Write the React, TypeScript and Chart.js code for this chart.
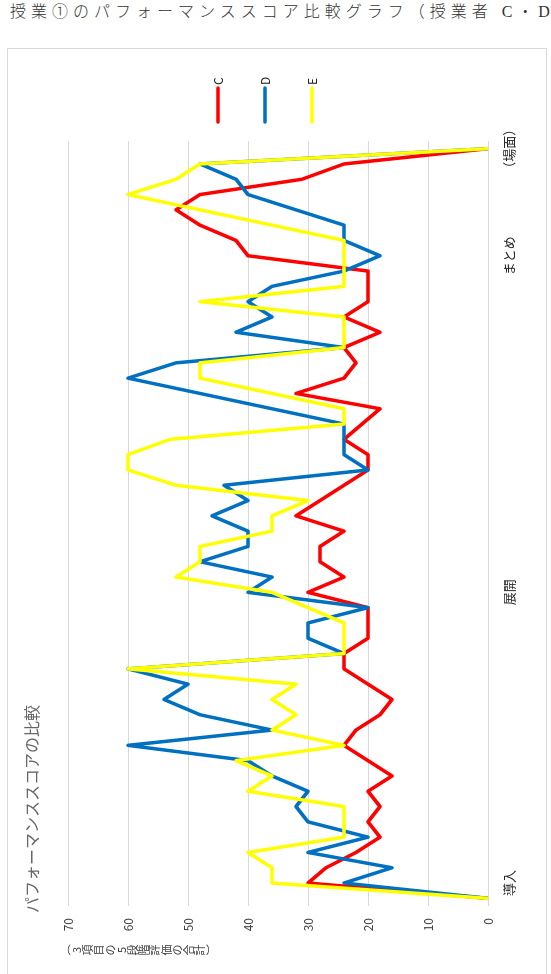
import React, { useEffect, useRef } from "react";
import { Chart, registerables } from "chart.js";

Chart.register(...registerables);

// ---- data ----
const pageTitle = "授業①のパフォーマンススコア比較グラフ（授業者 C・D・E）";
const chartTitle = "パフォーマンススコアの比較";
const axisTitle = "（3項目の5段階評価の合計）";

const categoryCount = 50;
const categoryLabels = ["導入", "展開", "まとめ", "（場面）"];
const categoryLabelIndex = [1, 20, 42, 49];

const seriesNames = ["C", "D", "E"];
const seriesColors = ["#FF0000", "#0070C0", "#FFFF00"];

const seriesC = [
  0, 30, 27, 22, 18, 20, 18, 20, 16, 20,
  24, 22, 18, 16, 20, 24, 24, 20, 20, 20,
  30, 24, 28, 28, 24, 32, 28, 24, 20, 20,
  24, 21, 18, 32, 24, 22, 24, 18, 24, 20,
  20, 20, 40, 42, 48, 52, 48, 31, 24, 0,
];
const seriesD = [
  0, 24, 16, 30, 20, 30, 32, 30, 36, 40,
  60, 36, 48, 54, 50, 60, 24, 30, 30, 20,
  40, 36, 48, 40, 40, 46, 40, 44, 20, 24,
  24, 24, 36, 48, 60, 52, 24, 42, 36, 40,
  36, 24, 18, 24, 24, 32, 40, 42, 48, 0,
];
const seriesE = [
  0, 36, 36, 40, 24, 24, 24, 40, 36, 42,
  24, 36, 32, 36, 32, 60, 24, 24, 24, 30,
  36, 52, 48, 48, 36, 36, 30, 52, 60, 60,
  53, 24, 24, 36, 48, 48, 24, 24, 24, 48,
  24, 24, 24, 24, 36, 48, 60, 52, 48, 0,
];

const valueMin = 0;
const valueMax = 70;
const valueStep = 10;

const categories = Array.from({ length: categoryCount }, (_, i) => {
  const k = categoryLabelIndex.indexOf(i);
  return k >= 0 ? categoryLabels[k] : "";
});

const FONT = '"Noto Sans CJK JP", "Noto Sans", sans-serif';

// canvas (unrotated) size
const CW = 932;
const CH = 538;

export default function App() {
  const ref = useRef<HTMLCanvasElement | null>(null);

  useEffect(() => {
    const canvas = ref.current;
    if (!canvas) return;

    const overlay = {
      id: "overlayText",
      afterDraw(chart: any) {
        const ctx = chart.ctx as CanvasRenderingContext2D;
        ctx.save();
        // chart title
        ctx.fillStyle = "#666666";
        ctx.font = `16px ${FONT}`;
        ctx.textAlign = "left";
        ctx.textBaseline = "middle";
        ctx.fillText(chartTitle, 67, 24);

        // stacked vertical axis title
        ctx.font = `11px ${FONT}`;
        ctx.textAlign = "center";
        ctx.fillStyle = "#404040";
        const chars = Array.from(axisTitle);
        chars.forEach((ch, k) => {
          const cy = 57.6 + k * 11.2;
          if (ch === "（" || ch === "）") {
            ctx.save();
            ctx.translate(30, cy);
            ctx.rotate(Math.PI / 2);
            ctx.fillText(ch, 0, 0);
            ctx.restore();
          } else {
            ctx.fillText(ch, 30, cy);
          }
        });

        // legend
        chart.data.datasets.forEach((ds: any, k: number) => {
          const y = 210 + 47 * k;
          ctx.strokeStyle = ds.borderColor;
          ctx.lineWidth = 3.5;
          ctx.lineCap = "round";
          ctx.beginPath();
          ctx.moveTo(858, y);
          ctx.lineTo(892, y);
          ctx.stroke();
          ctx.fillStyle = "#262626";
          ctx.font = `12px ${FONT}`;
          ctx.textAlign = "left";
          ctx.textBaseline = "middle";
          ctx.fillText(ds.label, 895, y);
        });
        ctx.restore();
      },
    };

    const seriesData = [seriesC, seriesD, seriesE];
    const chart = new Chart(canvas, {
      type: "line",
      data: {
        labels: categories,
        datasets: seriesNames.map((name, k) => ({
          label: name,
          data: seriesData[k],
          borderColor: seriesColors[k],
          backgroundColor: seriesColors[k],
          borderWidth: 3.5,
          pointRadius: 0,
          pointHoverRadius: 0,
          tension: 0,
          fill: false,
          borderJoinStyle: "round" as const,
          borderCapStyle: "round" as const,
          order: 3 - k,
        })),
      },
      options: {
        responsive: false,
        animation: false,
        devicePixelRatio: 1,
        layout: { padding: { top: 60, right: CW - 839, bottom: 0, left: 0 } },
        plugins: {
          legend: { display: false },
          title: { display: false },
          tooltip: { enabled: false },
        },
        scales: {
          x: {
            type: "category",
            offset: true,
            grid: { display: false, drawTicks: false },
            border: { display: false },
            ticks: {
              autoSkip: false,
              maxRotation: 0,
              minRotation: 0,
              padding: 13,
              color: "#262626",
              font: { size: 13, family: FONT },
            },
            afterFit(scale: any) {
              scale.height = 58;
            },
          },
          y: {
            min: valueMin,
            max: valueMax,
            grid: { color: "#d9d9d9", lineWidth: 1, drawTicks: false },
            border: { display: false },
            ticks: {
              stepSize: valueStep,
              padding: 12,
              color: "#404040",
              font: { size: 12, family: FONT },
            },
            afterFit(scale: any) {
              scale.width = 74;
            },
          },
        },
      },
      plugins: [overlay],
    });

    return () => chart.destroy();
  }, []);

  return (
    <div
      style={{
        position: "absolute",
        left: 0,
        top: 0,
        width: 551,
        height: 974,
        overflow: "hidden",
        background: "#fff",
      }}
    >
      <div
        style={{
          position: "absolute",
          left: 10,
          top: 1,
          fontSize: 16,
          lineHeight: "22px",
          letterSpacing: "5px",
          whiteSpace: "nowrap",
          color: "#333",
          fontWeight: 300,
          fontFamily: '"Liberation Serif", "Noto Sans CJK JP", serif',
        }}
      >
        {pageTitle}
      </div>
      <div
        style={{
          position: "absolute",
          left: 7,
          top: 48,
          width: 540,
          height: 940,
          border: "1px solid #d9d9d9",
          boxSizing: "border-box",
        }}
      />
      <canvas
        ref={ref}
        width={CW}
        height={CH}
        style={{
          position: "absolute",
          left: 8,
          top: 980,
          width: CW,
          height: CH,
          transformOrigin: "0 0",
          transform: "rotate(-90deg)",
        }}
      />
    </div>
  );
}
